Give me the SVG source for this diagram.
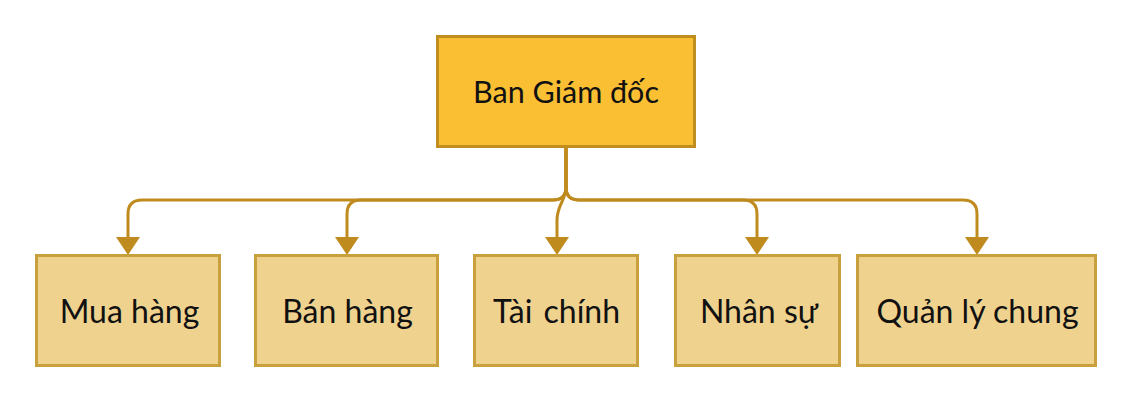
<svg xmlns="http://www.w3.org/2000/svg" width="1132" height="403" viewBox="0 0 1132 403">
<style>
.top{fill:#FBBF33;stroke:#C08E1F;stroke-width:3}
.sub{fill:#F0D28F;stroke:#C9A03E;stroke-width:3}
.lbl{font-family:Lato,"Liberation Sans",sans-serif;fill:#111;text-anchor:middle}
.t1{font-size:30.5px}
.t2{font-size:32px}
.conn{fill:none;stroke:#BF8B1F;stroke-width:3}
</style>
<defs>
<marker id="arr" markerUnits="userSpaceOnUse" viewBox="0 0 18 24" refX="1" refY="12" markerWidth="18" markerHeight="24" orient="auto">
<path d="M0,0 L18,12 L0,24 z" fill="#BF8B1F"/>
</marker>
</defs>
<rect width="1132" height="403" fill="#fff"/>
<g id="connectors">
<path class="conn" marker-end="url(#arr)" d="M566,147 V187 Q566,200 553,200 H142 Q128,200 128,214 V238"/>
<path class="conn" marker-end="url(#arr)" d="M566,147 V187 Q566,200 553,200 H361 Q347,200 347,214 V238"/>
<path class="conn" marker-end="url(#arr)" d="M566,147 V187 C566,200 557,205 557,220 V238"/>
<path class="conn" marker-end="url(#arr)" d="M566,147 V187 Q566,200 579,200 H743 Q757,200 757,214 V238"/>
<path class="conn" marker-end="url(#arr)" d="M566,147 V187 Q566,200 579,200 H963 Q977,200 977,214 V238"/>
</g>
<g id="ban-giam-doc">
<rect class="top" x="437.5" y="36.5" width="257" height="110"/>
<text class="lbl t1" x="566" y="103">Ban Giám đốc</text>
</g>
<g id="mua-hang">
<rect class="sub" x="36.5" y="255.5" width="183" height="110"/>
<text class="lbl t2" x="129.5" y="323">Mua hàng</text>
</g>
<g id="ban-hang">
<rect class="sub" x="255.5" y="255.5" width="182" height="110"/>
<text class="lbl t2" x="347.5" y="323">Bán hàng</text>
</g>
<g id="tai-chinh">
<rect class="sub" x="474.5" y="255.5" width="163" height="110"/>
<text class="lbl t2" x="556.5" y="323" word-spacing="3">Tài chính</text>
</g>
<g id="nhan-su">
<rect class="sub" x="675.5" y="255.5" width="164" height="110"/>
<text class="lbl t2" x="759" y="323">Nhân sự</text>
</g>
<g id="quan-ly-chung">
<rect class="sub" x="857.5" y="255.5" width="238" height="110"/>
<text class="lbl t2" x="977.5" y="323">Quản lý chung</text>
</g>
</svg>
